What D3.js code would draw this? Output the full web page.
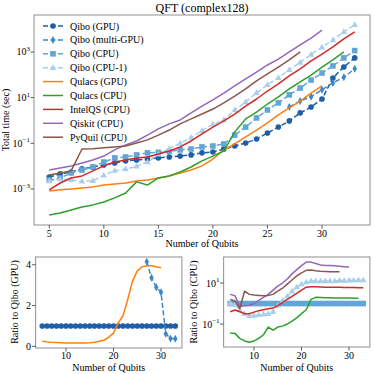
<!DOCTYPE html>
<html><head><meta charset="utf-8">
<script src="https://cdn.jsdelivr.net/npm/d3@7"></script>
<style>
body{margin:0;background:#fff}
svg{display:block}
text{font-family:"Liberation Serif","DejaVu Serif",serif;fill:#000}
</style>
</head><body>
<svg id="c" width="374" height="374"></svg>
<script>
// ---------- DATA ----------
const q5to33 = [5,6,7,8,9,10,11,12,13,14,15,16,17,18,19,20,21,22,23,24,25,26,27,28,29,30,31,32,33];
const q5to32 = [5,6,7,8,9,10,11,12,13,14,15,16,17,18,19,20,21,22,23,24,25,26,27,28,29,30,31,32];
const q5to30 = [5,6,7,8,9,10,11,12,13,14,15,16,17,18,19,20,21,22,23,24,25,26,27,28,29,30];
const q5to28 = [5,6,7,8,9,10,11,12,13,14,15,16,17,18,19,20,21,22,23,24,25,26,27,28];
const q27to33 = [27,28,29,30,31,32,33];

// total time (sec)
const qiboGPU = [0.00331,0.00457,0.0055,0.00759,0.00912,0.0112,0.0138,0.017,0.0186,0.0204,0.0229,0.0251,0.0275,0.0309,0.038,0.0417,0.0562,0.0759,0.102,0.155,0.282,0.513,0.955,2.14,3.89,8.71,72.4,219,550];
const qiboMultiGPU = [3.9,7.2,11,22,44,79,182];
const qiboCPU = [0.00245,0.00302,0.00501,0.00676,0.00912,0.0151,0.0229,0.0251,0.0309,0.038,0.0398,0.0437,0.0513,0.0562,0.0692,0.0759,0.0933,0.229,0.513,1.29,2.88,5.89,13.2,26.3,58.9,120,245,550,1150];
const qiboCPU1 = [0.00224,0.00269,0.00251,0.00214,0.00229,0.00398,0.00631,0.00741,0.00977,0.0151,0.0331,0.0589,0.1,0.178,0.355,0.676,1.05,2.88,6.46,16.2,36.3,74.1,166,347,776,1620,3310,7590,15500];
const qulacsGPU = [0.000813,0.000912,0.001,0.0011,0.00123,0.00148,0.00166,0.00182,0.00224,0.00245,0.00302,0.00372,0.00501,0.00676,0.0102,0.0204,0.0513,0.0933,0.191,0.38,0.776,1.74,3.55,7.08,15.8,32.4];
const qulacsCPU = [7.24e-5,8.91e-5,1.2e-4,1.62e-4,2.0e-4,2.69e-4,4.07e-4,6.61e-4,0.00204,0.00148,0.00302,0.00372,0.0055,0.00912,0.017,0.0275,0.0457,0.316,1.17,2.34,5.25,10.7,24,49,97.7,219,447,1000];
const intelQS = [0.000912,0.00182,0.00302,0.00372,0.00617,0.0102,0.0151,0.0186,0.0229,0.0251,0.0339,0.0457,0.0692,0.126,0.257,0.513,0.955,1.91,4.27,8.71,19.5,39.8,89.1,182,407,813,1660,3720,7590];
const qiskit = [0.00676,0.00832,0.0102,0.0138,0.0186,0.0275,0.0513,0.0851,0.126,0.229,0.427,0.708,1.05,2.14,4.27,7.94,15.8,32.4,66.1,132,269,490,1000,2040,4070,9120];
const pyquil = [0.00407,0.00501,0.00617,0.0562,0.058,0.0631,0.0692,0.0759,0.102,0.141,0.229,0.38,0.708,1.17,1.91,3.16,5.89,11.7,24,53.7,110,219,447,1000];

// ratio to Qibo (GPU)
const ratioGPUQibo = [1,1,1,1,1,1,1,1,1,1,1,1,1,1,1,1,1,1,1,1,1,1,1,1,1,1,1,1,1];
const ratioGPUMulti = [4.15,3.36,2.9,2.65,0.62,0.38,0.37];
const ratioGPUQulacs = [0.25,0.22,0.2,0.19,0.18,0.17,0.17,0.17,0.17,0.17,0.18,0.2,0.25,0.3,0.45,0.65,1.15,1.5,2.3,3.2,3.7,3.9,3.95,3.95,3.9,3.85];

// ratio to Qibo (CPU)
const ratioCPUQibo = [1,1,1,1,1,1,1,1,1,1,1,1,1,1,1,1,1,1,1,1,1,1,1,1,1,1,1,1,1];
const ratioCPUQibo1 = [1,0.89,0.5,0.32,0.25,0.26,0.28,0.3,0.32,0.4,0.79,1.41,2.24,3.98,6.31,8.91,11.2,12.6,12.6,12.6,12.6,12.6,12.6,13.2,13.2,13.5,13.5,13.8,14.1];
const ratioCPUQulacs = [0.037,0.035,0.02,0.015,0.013,0.015,0.02,0.03,0.071,0.05,0.071,0.079,0.1,0.14,0.2,0.32,0.5,1.6,2.0,1.95,1.9,1.9,1.88,1.86,1.85,1.84,1.82,1.8];
const ratioCPUIntel = [0.4,0.48,0.4,0.32,0.32,0.38,0.45,0.5,0.56,0.6,0.79,1.12,1.58,2.24,3.16,4.47,6.31,6.6,6.5,6.4,6.3,6.3,6.2,6.2,6.1,6.0,6.0,5.9,5.9];
const ratioCPUQiskit = [2.8,2.4,0.71,0.79,0.83,1.0,1.41,2.0,2.8,4.5,7.1,10,15.8,28,45,71,105,105,89,76,72,71,69,66,63,60];
const ratioCPUPyquil = [1.58,1.32,0.56,4.0,2.8,2.6,2.5,2.4,2.5,2.8,4.0,5.6,8.9,14.1,22.4,31.6,41.7,42.7,39.8,38,37,36,35.5,35.5];

const xTicks = [5,10,15,20,25,30];
const xTicksSmall = [10,20,30];
const yTicksMain = [-3,-1,1,3];
const yTicksGPU = [0,2,4];
const yTicksCPU = [-1,1];
const legendLabels = ["Qibo (GPU)","Qibo (multi-GPU)","Qibo (CPU)","Qibo (CPU-1)","Qulacs (GPU)","Qulacs (CPU)","IntelQS (CPU)","Qiskit (CPU)","PyQuil (CPU)"];

// ---------- STYLES ----------
const C = {gpu:"#1f5fa8", multi:"#3d87c6", cpu:"#62a6d6", cpu1:"#a9cfe8",
  orange:"#ff7f0e", green:"#2ca02c", red:"#d62728", purple:"#9467bd", brown:"#8c564b"};
const styles = [
  {color:C.gpu, dash:true, marker:"circle"},
  {color:C.multi, dash:true, marker:"diamond"},
  {color:C.cpu, dash:true, marker:"square"},
  {color:C.cpu1, dash:true, marker:"triangle"},
  {color:C.orange}, {color:C.green}, {color:C.red}, {color:C.purple}, {color:C.brown}
];

const svg = d3.select("#c");

function drawMarker(g, type, x, y, color){
  if(type==="circle") g.append("circle").attr("cx",x).attr("cy",y).attr("r",2.8).attr("fill",color);
  else if(type==="square") g.append("rect").attr("x",x-2.8).attr("y",y-2.8).attr("width",5.6).attr("height",5.6).attr("fill",color);
  else if(type==="triangle") g.append("path").attr("d",`M${x},${y-3.5}L${x+3.2},${y+2.2}L${x-3.2},${y+2.2}Z`).attr("fill",color);
  else if(type==="diamond") g.append("path").attr("d",`M${x},${y-4}L${x+2.2},${y}L${x},${y+4}L${x-2.2},${y}Z`).attr("fill",color);
}

function drawSeries(g, xs, ys, xS, yS, st){
  const line = d3.line().x((d,i)=>xS(xs[i])).y(d=>yS(d));
  g.append("path").datum(ys).attr("d",line).attr("fill","none")
    .attr("stroke",st.color).attr("stroke-width",1.5)
    .attr("stroke-dasharray",st.dash?"5,2.5":null).attr("stroke-linejoin","round");
  if(st.marker) ys.forEach((v,i)=>drawMarker(g, st.marker, xS(xs[i]), yS(v), st.color));
}

function frame(x0,y0,x1,y1){
  svg.append("rect").attr("x",x0).attr("y",y0).attr("width",x1-x0).attr("height",y1-y0)
    .attr("fill","none").attr("stroke","#999").attr("stroke-width",1.1);
}

function xAxis(xS, ticks, yB, labelY, titleY){
  ticks.forEach(t=>{
    svg.append("line").attr("x1",xS(t)).attr("x2",xS(t)).attr("y1",yB).attr("y2",yB+3.5).attr("stroke","#333").attr("stroke-width",0.8);
    svg.append("text").attr("x",xS(t)).attr("y",labelY).attr("text-anchor","middle").attr("font-size",10).text(t);
  });
  const r = xS.range();
  svg.append("text").attr("x",(r[0]+r[1])/2).attr("y",titleY).attr("text-anchor","middle").attr("font-size",10).text("Number of Qubits");
}

function yAxisLog(yS, exps, xL){
  exps.forEach(e=>{
    const y = yS(Math.pow(10,e));
    svg.append("line").attr("x1",xL-3.5).attr("x2",xL).attr("y1",y).attr("y2",y).attr("stroke","#333").attr("stroke-width",0.8);
    const t = svg.append("text").attr("x",xL-4).attr("y",y+3.5).attr("text-anchor","end").attr("font-size",10);
    t.append("tspan").text("10");
    t.append("tspan").attr("dy",-4.5).attr("font-size",7).text(e<0?"\u2212"+(-e):String(e));
  });
}

function yTitle(x, yc, label){
  svg.append("text").attr("transform",`translate(${x},${yc}) rotate(-90)`).attr("text-anchor","middle").attr("font-size",10).text(label);
}

// ---------- MAIN PANEL ----------
const xM = d3.scaleLinear().domain([3.6,34.4]).range([34,370]);
const yM = d3.scaleLog().domain([Math.pow(10,-4.58), Math.pow(10,4.62)]).range([225,15]);
const gM = svg.append("g");
const mainSeries = [
  [q5to33, qiboGPU], [q27to33, qiboMultiGPU], [q5to33, qiboCPU], [q5to33, qiboCPU1],
  [q5to30, qulacsGPU], [q5to32, qulacsCPU], [q5to33, intelQS], [q5to30, qiskit], [q5to28, pyquil]
];
mainSeries.forEach((s,i)=>drawSeries(gM, s[0], s[1], xM, yM, styles[i]));
frame(34,15,370,225);
xAxis(xM, xTicks, 225, 237, 247);
yAxisLog(yM, yTicksMain, 34);
yTitle(9, 120, "Total time (sec)");
svg.append("text").attr("x",202).attr("y",12).attr("text-anchor","middle").attr("font-size",12).text("QFT (complex128)");

// legend
const lg = svg.append("g");
legendLabels.forEach((lab,i)=>{
  const y = 26 + i*13.9;
  const st = styles[i];
  lg.append("line").attr("x1",43).attr("x2",63).attr("y1",y).attr("y2",y).attr("stroke",st.color).attr("stroke-width",1.5)
    .attr("stroke-dasharray",st.dash?"5,2.5":null);
  if(st.marker) drawMarker(lg, st.marker, 53, y, st.color);
  lg.append("text").attr("x",70).attr("y",y+3.5).attr("font-size",10).text(lab);
});

// ---------- GPU RATIO PANEL ----------
const xG = d3.scaleLinear().domain([3.6,34.4]).range([35.6,181.9]);
const yG = d3.scaleLinear().domain([-0.08,4.38]).range([348,257]);
const gG = svg.append("g");
drawSeries(gG, q5to33, ratioGPUQibo, xG, yG, styles[0]);
drawSeries(gG, q27to33, ratioGPUMulti, xG, yG, styles[1]);
drawSeries(gG, q5to30, ratioGPUQulacs, xG, yG, styles[4]);
frame(35.6,257,181.9,348);
xAxis(xG, xTicksSmall, 348, 359, 371);
yTicksGPU.forEach(t=>{
  const y = yG(t);
  svg.append("line").attr("x1",32).attr("x2",35.6).attr("y1",y).attr("y2",y).attr("stroke","#333").attr("stroke-width",0.8);
  svg.append("text").attr("x",31).attr("y",y+3.5).attr("text-anchor","end").attr("font-size",10).text(t);
});
yTitle(18, 302, "Ratio to Qibo (GPU)");

// ---------- CPU RATIO PANEL ----------
const xC = d3.scaleLinear().domain([3.6,34.4]).range([223.6,369.9]);
const yC = d3.scaleLog().domain([Math.pow(10,-2.12), Math.pow(10,2.27)]).range([347,257]);
const gC = svg.append("g");
drawSeries(gC, q5to33, ratioCPUQibo, xC, yC, styles[2]);
drawSeries(gC, q5to33, ratioCPUQibo1, xC, yC, styles[3]);
drawSeries(gC, q5to32, ratioCPUQulacs, xC, yC, styles[5]);
drawSeries(gC, q5to33, ratioCPUIntel, xC, yC, styles[6]);
drawSeries(gC, q5to30, ratioCPUQiskit, xC, yC, styles[7]);
drawSeries(gC, q5to28, ratioCPUPyquil, xC, yC, styles[8]);
frame(223.6,257,369.9,347);
xAxis(xC, xTicksSmall, 347, 359, 371);
yAxisLog(yC, yTicksCPU, 223.6);
yTitle(197, 302, "Ratio to Qibo (CPU)");
</script>
</body></html>
